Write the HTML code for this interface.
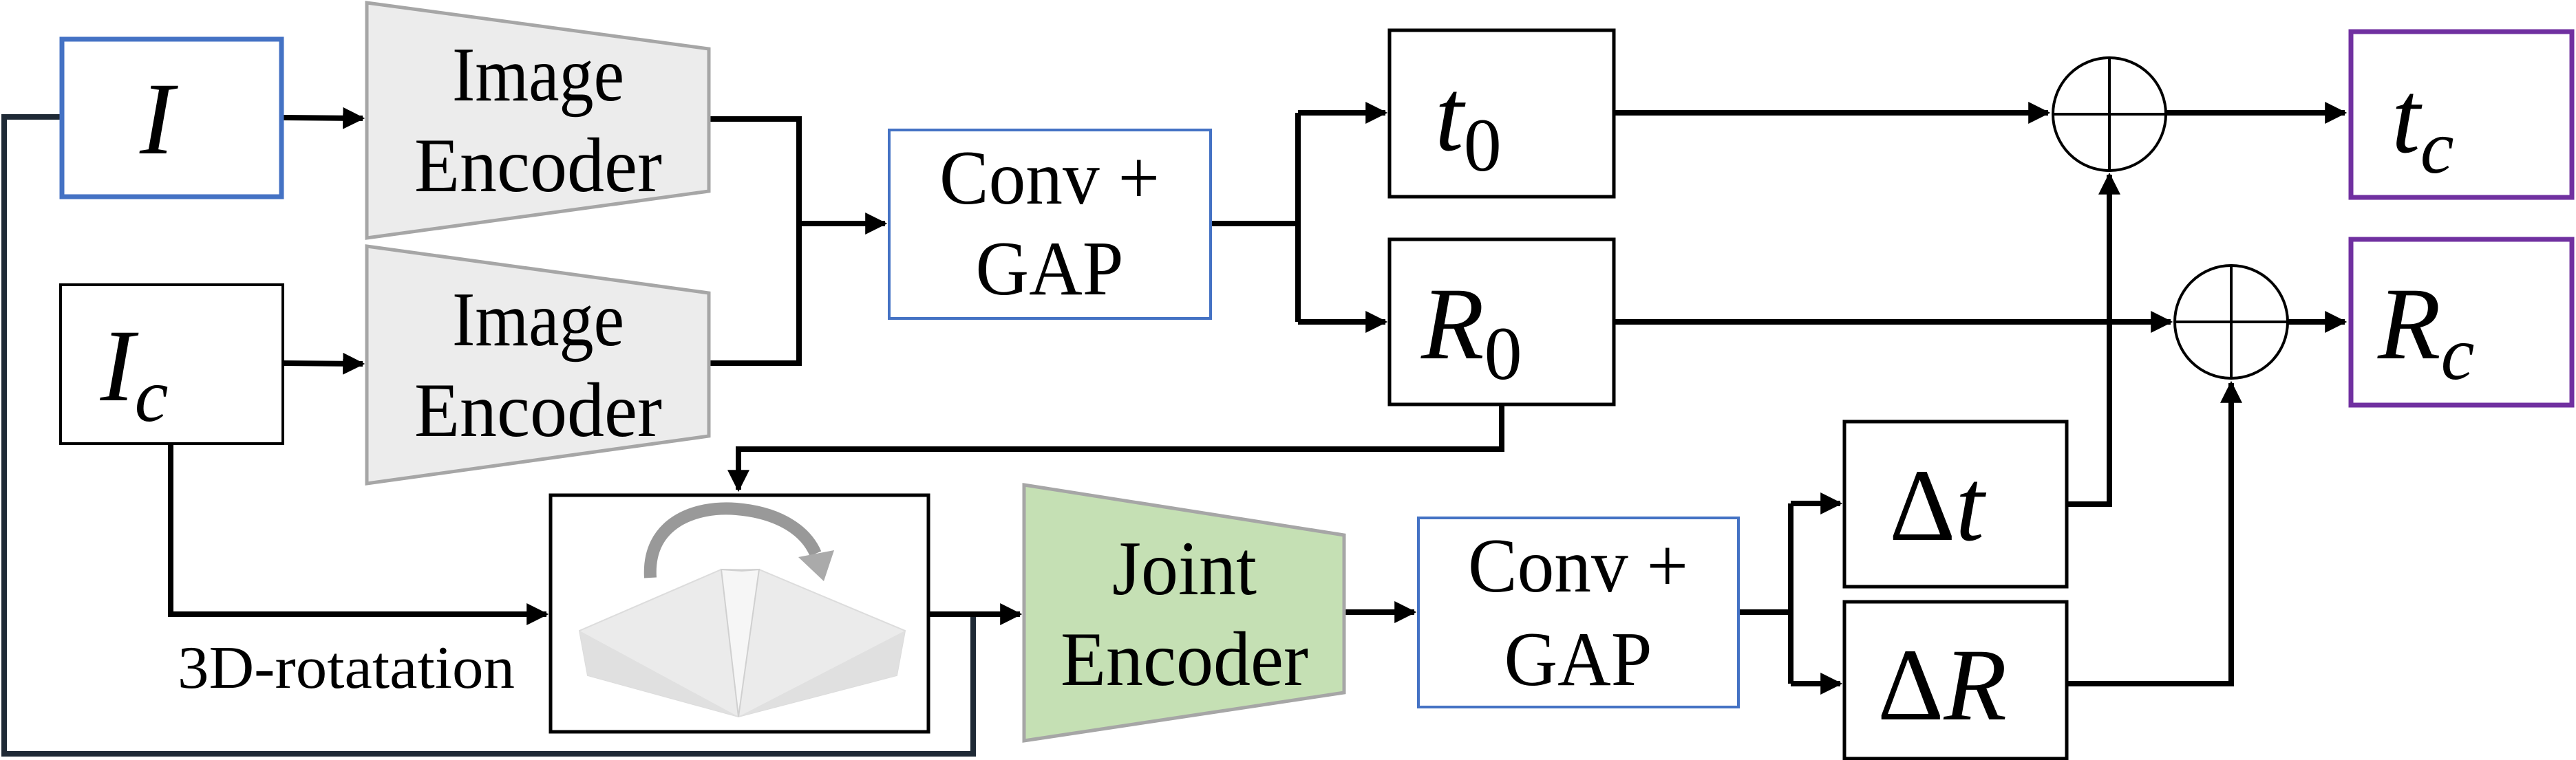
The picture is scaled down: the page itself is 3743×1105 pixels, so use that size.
<!DOCTYPE html>
<html><head><meta charset="utf-8"><style>
html,body{margin:0;padding:0;background:#fff;}
svg{display:block;}
svg text{font-family:"Liberation Serif","DejaVu Serif","Times New Roman",serif !important;fill:#000;}
</style></head><body>
<svg width="3743" height="1105" viewBox="0 0 3743 1105" xmlns="http://www.w3.org/2000/svg" font-family="'Liberation Serif', 'DejaVu Serif', serif">
<defs>
<marker id="ah" markerWidth="4" markerHeight="4" refX="3.6" refY="2" orient="auto" markerUnits="strokeWidth">
<path d="M0,0 L4,2 L0,4 z" fill="#000"/>
</marker>
</defs>
<g fill="none" stroke="#000" stroke-width="8">
<polyline points="87,170 6,170 6,1096 1414,1096 1414,893" stroke="#1f2a36"/>
<line x1="412" y1="171" x2="527" y2="172" marker-end="url(#ah)"/>
<line x1="412" y1="528" x2="527" y2="529" marker-end="url(#ah)"/>
<polyline points="1030,173 1161,173 1161,528 1030,528"/>
<line x1="1161" y1="325" x2="1286" y2="325" marker-end="url(#ah)"/>
<polyline points="1759,325 1886,325"/>
<polyline points="1886,164 1886,468"/>
<line x1="1886" y1="164" x2="2013" y2="164" marker-end="url(#ah)"/>
<line x1="1886" y1="468" x2="2013" y2="468" marker-end="url(#ah)"/>
<polyline points="2182,588 2182,653 1073,653 1073,712" marker-end="url(#ah)"/>
<polyline points="248,646 248,893 794,893" marker-end="url(#ah)"/>
<line x1="1349" y1="893" x2="1482" y2="893" marker-end="url(#ah)"/>
<line x1="1953" y1="890" x2="2055" y2="890" marker-end="url(#ah)"/>
<polyline points="2526,890 2602,890"/>
<polyline points="2602,732 2602,994"/>
<line x1="2602" y1="732" x2="2674" y2="732" marker-end="url(#ah)"/>
<line x1="2602" y1="994" x2="2674" y2="994" marker-end="url(#ah)"/>
<line x1="2345" y1="164" x2="2976" y2="164" marker-end="url(#ah)"/>
<line x1="3148" y1="164" x2="3407" y2="164" marker-end="url(#ah)"/>
<line x1="2345" y1="468" x2="3154" y2="468" marker-end="url(#ah)"/>
<line x1="3325" y1="468" x2="3407" y2="468" marker-end="url(#ah)"/>
<polyline points="3003,733 3065,733 3065,254" marker-end="url(#ah)"/>
<polyline points="3003,994 3242,994 3242,557" marker-end="url(#ah)"/>
</g>
<rect x="90" y="57" width="319" height="229" fill="#fff" stroke="#4472c4" stroke-width="7"/>
<rect x="88" y="414" width="323" height="231" fill="#fff" stroke="#000" stroke-width="4"/>
<polygon points="533,4 1030,71 1030,278 533,346" fill="#ececec" stroke="#a6a6a6" stroke-width="5"/>
<polygon points="533,358 1030,426 1030,634 533,703" fill="#ececec" stroke="#a6a6a6" stroke-width="5"/>
<rect x="1292" y="189" width="467" height="274" fill="#fff" stroke="#4472c4" stroke-width="4"/>
<rect x="2019" y="44" width="326" height="242" fill="#fff" stroke="#000" stroke-width="5"/>
<rect x="2019" y="348" width="326" height="240" fill="#fff" stroke="#000" stroke-width="5"/>
<rect x="800" y="720" width="549" height="344" fill="#fff" stroke="#000" stroke-width="5"/>
<polygon points="1488,705 1953,778 1953,1007 1488,1077" fill="#c5e0b4" stroke="#a6a6a6" stroke-width="5"/>
<rect x="2061" y="753" width="465" height="275" fill="#fff" stroke="#4472c4" stroke-width="4"/>
<rect x="2680" y="613" width="323" height="240" fill="#fff" stroke="#000" stroke-width="5"/>
<rect x="2680" y="875" width="323" height="228" fill="#fff" stroke="#000" stroke-width="5"/>
<rect x="3416" y="46" width="321" height="241" fill="#fff" stroke="#7030a0" stroke-width="7"/>
<rect x="3416" y="348" width="321" height="241" fill="#fff" stroke="#7030a0" stroke-width="7"/>
<g fill="#fff" stroke="#000" stroke-width="4">
<ellipse cx="3065" cy="166" rx="82" ry="82"/>
<line x1="2983" y1="166" x2="3147" y2="166"/><line x1="3065" y1="84" x2="3065" y2="248"/>
<ellipse cx="3242" cy="468" rx="82" ry="82"/>
<line x1="3160" y1="468" x2="3324" y2="468"/><line x1="3242" y1="386" x2="3242" y2="550"/>
</g>
<polygon points="842,917 1048,828 1103,828 1315,917 1303,982 1073,1042 854,982" fill="#ebebeb" stroke="#dcdcdc" stroke-width="2"/>
<polygon points="842,917 1073,1042 854,982" fill="#e0e0e0"/>
<polygon points="1315,917 1073,1042 1303,982" fill="#e0e0e0"/>
<polygon points="1048,828 1073,1042 1103,828 1078,830" fill="#f6f6f6" stroke="#d0d0d0" stroke-width="2"/>
<path d="M945,840 C940,760 1010,735 1070,740 C1130,745 1170,770 1185,805" fill="none" stroke="#999" stroke-width="18"/>
<polygon points="1160,810 1212,800 1197,845" fill="#aaa"/>
<g font-size="112" text-anchor="middle">
<text x="782" y="146" textLength="250" lengthAdjust="spacingAndGlyphs">Image</text><text x="782" y="278" textLength="360" lengthAdjust="spacingAndGlyphs">Encoder</text>
<text x="782" y="502" textLength="250" lengthAdjust="spacingAndGlyphs">Image</text><text x="782" y="634" textLength="360" lengthAdjust="spacingAndGlyphs">Encoder</text>
<text x="1525" y="296" textLength="320" lengthAdjust="spacingAndGlyphs">Conv +</text><text x="1525" y="428" textLength="215" lengthAdjust="spacingAndGlyphs">GAP</text>
<text x="1721" y="864" textLength="210" lengthAdjust="spacingAndGlyphs">Joint</text><text x="1721" y="996" textLength="360" lengthAdjust="spacingAndGlyphs">Encoder</text>
<text x="2293" y="860" textLength="320" lengthAdjust="spacingAndGlyphs">Conv +</text><text x="2293" y="996" textLength="215" lengthAdjust="spacingAndGlyphs">GAP</text>
</g>
<text x="258" y="1000" font-size="88" textLength="490" lengthAdjust="spacingAndGlyphs">3D-rotatation</text>
<g font-style="italic" font-size="150">
<text x="228" y="223" text-anchor="middle">I</text>
<text x="195" y="582" text-anchor="middle">I<tspan font-size="110" dy="30">c</tspan></text>
<text x="2085" y="218">t<tspan font-style="normal" font-size="110" dy="30">0</tspan></text>
<text x="2065" y="521">R<tspan font-style="normal" font-size="110" dy="30">0</tspan></text>
<text x="3475" y="221">t<tspan font-size="110" dy="30">c</tspan></text>
<text x="3455" y="521">R<tspan font-size="110" dy="30">c</tspan></text>
<text x="2745" y="785"><tspan font-style="normal">Δ</tspan>t</text>
<text x="2728" y="1046"><tspan font-style="normal">Δ</tspan>R</text>
</g>
</svg>
</body></html>
